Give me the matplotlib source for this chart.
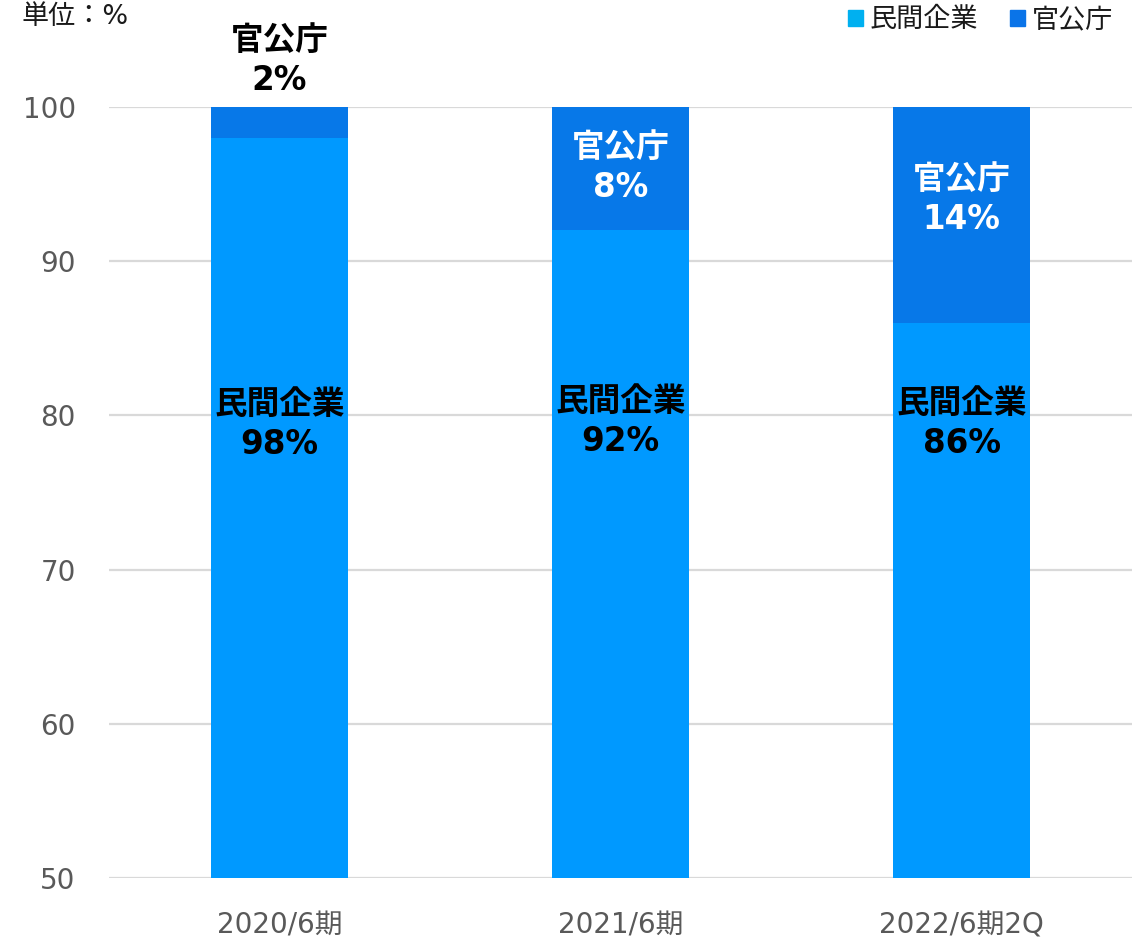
import matplotlib
matplotlib.use("Agg")
import matplotlib.pyplot as plt
from matplotlib.patches import Patch

plt.rcParams['font.family'] = ['DejaVu Sans', 'Noto Sans CJK JP']

categories = ["2020/6期", "2021/6期", "2022/6期2Q"]
private = [98, 92, 86]
public = [2, 8, 14]
series_names = ["民間企業", "官公庁"]
yticks = [50, 60, 70, 80, 90, 100]

# label anchor positions (data y) for annotation placement
private_label_y = [79.4, 79.6, 79.5]
public_label_y = [103.0, 96.1, 94.0]

c_private = "#0099FF"
c_public = "#0778E8"
c_private_legend = "#00B0F0"

fig = plt.figure(figsize=(11.4, 9.42), dpi=100)
ax = fig.add_axes([0.0956, 0.0679, 0.8974, 0.8185])

x = list(range(len(categories)))
ax.bar(x, private, width=0.40, color=c_private, zorder=2)
ax.bar(x, public, bottom=private, width=0.40, color=c_public, zorder=2)

ax.set_ylim(50, 100)
ax.set_xlim(-0.5, 2.5)
ax.set_yticks(yticks)
ax.yaxis.grid(True, color="#d9d9d9", linewidth=1.6, zorder=0)
ax.set_axisbelow(True)
for s in ax.spines.values():
    s.set_visible(False)
ax.tick_params(axis="both", length=0, labelsize=20, colors="#595959")
ax.tick_params(axis="y", pad=24)
ax.tick_params(axis="x", pad=24)
ax.set_xticks(x)
ax.set_xticklabels(categories)

for i in x:
    ax.text(i, private_label_y[i], f"{series_names[0]}\n{private[i]}%", ha="center", va="center",
            fontsize=23.5, fontweight="bold", color="black", linespacing=1.28, zorder=3)
    col = "black" if i == 0 else "white"
    ax.text(i, public_label_y[i], f"{series_names[1]}\n{public[i]}%", ha="center", va="center",
            fontsize=23.5, fontweight="bold", color=col, linespacing=1.28, zorder=3, clip_on=False)

fig.text(0.019, 0.982, "単位：%", ha="left", va="center", fontsize=19.5, color="#1a1a1a")

handles = [Patch(color=c_private_legend), Patch(color="#0A74E8")]
fig.legend(handles, series_names, loc="upper right", bbox_to_anchor=(0.998, 1.018), ncol=2,
           frameon=False, fontsize=19.5, handlelength=0.55, handleheight=0.55,
           handletextpad=0.25, columnspacing=1.2, labelcolor="#1a1a1a")

fig.savefig("out.png", dpi=100)
